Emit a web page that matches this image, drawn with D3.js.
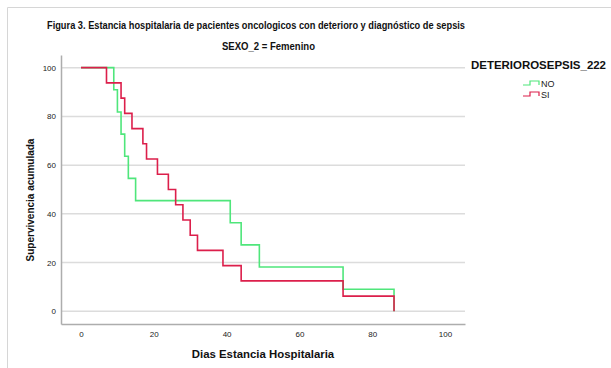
<!DOCTYPE html>
<html>
<head>
<meta charset="utf-8">
<script src="https://cdn.jsdelivr.net/npm/d3@7/dist/d3.min.js"></script>
<style>
	body { margin: 0; background: #fff; }
	svg { display: block; font-family: "Liberation Sans", Arial, sans-serif; }
</style>
</head>
<body>
<svg id="chart" width="611" height="368"></svg>
<script>
// Kaplan-Meier, estancia hospitalaria (SEXO_2 = Femenino)
var timesSI = [0, 7, 11, 12, 14, 17, 18, 21, 24, 26, 28, 30, 32, 39, 44, 72, 86];
var survSI = [100, 93.75, 87.5, 81.25, 75, 68.75, 62.5, 56.25, 50, 43.75, 37.5, 31.25, 25, 18.75, 12.5, 6.25, 0];
var timesNO = [0, 9, 10, 11, 12, 13, 15, 41, 44, 49, 72, 86];
var survNO = [100, 90.91, 81.82, 72.73, 63.64, 54.55, 45.45, 36.36, 27.27, 18.18, 9.09, 0];
var xTicks = [0, 20, 40, 60, 80, 100];
var yTicks = [0, 20, 40, 60, 80, 100];
var groups = ["NO", "SI"];
var groupColors = ["#4fe67b", "#dc1f4b"];

var svg = d3.select("#chart");

// marco exterior
svg.append("path")
	.attr("d", "M7.5,400 V7.5 H700")
	.attr("fill", "none")
	.attr("stroke", "#d6d6d6");

var x = d3.scaleLinear().domain([-5.5, 105.5]).range([61, 465]),
	y = d3.scaleLinear().domain([-5.2, 105.2]).range([324, 55]);

// rejilla horizontal
svg.append("g")
	.selectAll("line")
	.data(yTicks)
	.enter().append("line")
		.attr("x1", x.range()[0])
		.attr("x2", x.range()[1])
		.attr("y1", function(d) { return y(d); })
		.attr("y2", function(d) { return y(d); })
		.attr("stroke", "#dcdcdc")
		.attr("stroke-width", 1.5);

var xAxis = svg.append("g")
	.attr("transform", "translate(0," + y.range()[0] + ")")
	.call(d3.axisBottom(x).tickValues(xTicks).tickSize(0).tickPadding(7));

var yAxis = svg.append("g")
	.attr("transform", "translate(" + x.range()[0] + ",0)")
	.call(d3.axisLeft(y).tickValues(yTicks).tickSize(0).tickPadding(5));

[xAxis, yAxis].forEach(function(a) {
	a.select(".domain").attr("stroke", "#adadad").attr("stroke-width", 1.5);
	a.selectAll("text").attr("font-size", 8).attr("fill", "#222")
		.attr("font-family", "\"Liberation Sans\", Arial, sans-serif");
});

// curvas de supervivencia
var line = d3.line()
	.x(function(d) { return x(d[0]); })
	.y(function(d) { return y(d[1]); })
	.curve(d3.curveStepAfter);

var series = [d3.zip(timesNO, survNO), d3.zip(timesSI, survSI)];

series.forEach(function(pts, i) {
	svg.append("path")
		.datum(pts)
		.attr("d", line)
		.attr("fill", "none")
		.attr("stroke", groupColors[i])
		.attr("stroke-width", 1.6);
});

// titulos
svg.append("text")
	.attr("x", 47).attr("y", 29)
	.attr("textLength", 418).attr("lengthAdjust", "spacingAndGlyphs")
	.attr("font-size", 10.5).attr("font-weight", "bold").attr("fill", "#111")
	.text("Figura 3. Estancia hospitalaria de pacientes oncologicos con deterioro y diagnóstico de sepsis");

svg.append("text")
	.attr("x", 222).attr("y", 50)
	.attr("textLength", 93).attr("lengthAdjust", "spacingAndGlyphs")
	.attr("font-size", 10.5).attr("font-weight", "bold").attr("fill", "#111")
	.text("SEXO_2 = Femenino");

svg.append("text")
	.attr("x", 263).attr("y", 358)
	.attr("text-anchor", "middle")
	.attr("font-size", 11.4).attr("font-weight", "bold").attr("fill", "#111")
	.text("Dias Estancia Hospitalaria");

svg.append("text")
	.attr("transform", "translate(34,200) rotate(-90)")
	.attr("text-anchor", "middle")
	.attr("font-size", 10).attr("font-weight", "bold").attr("fill", "#111")
	.text("Supervivencia acumulada");

// leyenda
var legend = svg.append("g");

legend.append("text")
	.attr("x", 471).attr("y", 69)
	.attr("textLength", 135).attr("lengthAdjust", "spacingAndGlyphs")
	.attr("font-size", 11).attr("font-weight", "bold").attr("fill", "#111")
	.text("DETERIOROSEPSIS_222");

var item = legend.selectAll("g.item")
	.data(groups)
	.enter().append("g")
		.attr("class", "item")
		.attr("transform", function(d, i) { return "translate(523," + (83 + i * 11) + ")"; });

item.append("path")
	.attr("d", "M0,2 H7 V-2 H16 V2")
	.attr("fill", "none")
	.attr("stroke", function(d, i) { return groupColors[i]; })
	.attr("stroke-width", 1.2);

item.append("text")
	.attr("x", 18).attr("y", 3.5)
	.attr("font-size", 9).attr("fill", "#222")
	.text(function(d) { return d; });
</script>
</body>
</html>
